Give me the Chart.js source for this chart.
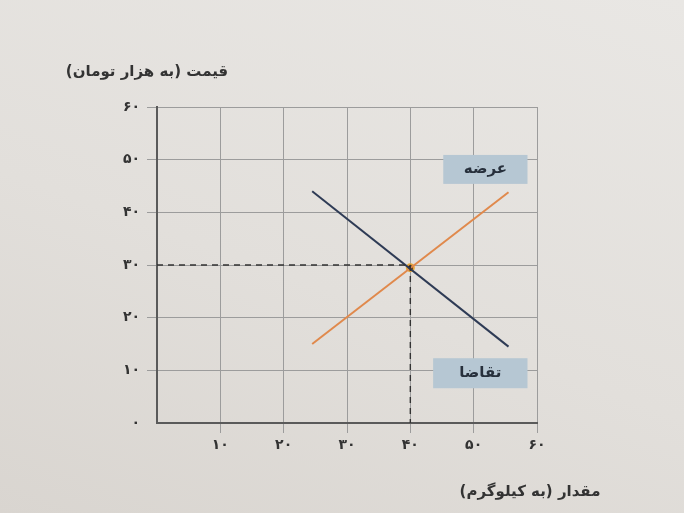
<!DOCTYPE html>
<html lang="fa">
<head>
<meta charset="UTF-8">
<title>عرضه و تقاضا</title>
<script src="https://cdn.jsdelivr.net/npm/chart.js"></script>
<style>
    body { margin: 0; background: linear-gradient(200deg, #e9e7e4 0%, #e2dfdb 55%, #d9d5d0 100%); }
    canvas { display: block; }
</style>
</head>
<body>
<canvas id="chart" width="684" height="513"></canvas>
<script>
    // داده‌ها
    const xTickLabels = ['', '۱۰', '۲۰', '۳۰', '۴۰', '۵۰', '۶۰'];
    const yTickLabels = ['۰', '۱۰', '۲۰', '۳۰', '۴۰', '۵۰', '۶۰'];
    const demandX = [24.5, 55.5];
    const demandY = [44, 14.5];
    const supplyX = [24.5, 55.5];
    const supplyY = [15, 43.8];
    const equilibriumX = [40];
    const equilibriumY = [29.5];
    const guideX = [40];
    const guideY = [30];
    const yTitle = 'قیمت (به هزار تومان)';
    const xTitle = 'مقدار (به کیلوگرم)';
    // برچسب منحنی‌ها: [متن، x چپ، x راست، y بالا، y پایین]
    const curveLabels = [
        ['عرضه', 45.2, 58.5, 50.9, 45.4],
        ['تقاضا', 43.6, 58.5, 12.3, 6.6]
    ];

    const toPoints = (xs, ys) => xs.map((x, i) => ({ x: x, y: ys[i] }));
    const gridTick = c => c.tick && c.tick.value === 0 ? 'rgba(0,0,0,0)' : '#9c9c9c';

    const labelPlugin = {
        id: 'labels',
        afterDatasetsDraw(chart) {
            const c = chart.ctx;
            const xs = chart.scales.x, ys = chart.scales.y;
            c.save();
            curveLabels.forEach(l => {
                const x1 = xs.getPixelForValue(l[1]), x2 = xs.getPixelForValue(l[2]);
                const y1 = ys.getPixelForValue(l[3]), y2 = ys.getPixelForValue(l[4]);
                c.fillStyle = '#b6c7d3';
                c.fillRect(x1, y1, x2 - x1, y2 - y1);
                c.fillStyle = '#27303c';
                c.font = 'bold 15px "DejaVu Sans"';
                c.textAlign = 'center';
                c.textBaseline = 'middle';
                c.direction = 'rtl';
                c.fillText(l[0], (x1 + x2) / 2, (y1 + y2) / 2);
            });
            c.restore();
        },
        afterDraw(chart) {
            const c = chart.ctx;
            const xs = chart.scales.x, ys = chart.scales.y;
            c.save();
            c.fillStyle = '#333333';
            c.font = 'bold 15px "DejaVu Sans"';
            c.textBaseline = 'middle';
            c.direction = 'rtl';
            c.textAlign = 'center';
            c.fillText(yTitle, xs.left - 10, ys.top - 35);
            c.fillText(xTitle, xs.right - 7, xs.bottom + 19);
            c.restore();
        }
    };

    new Chart(document.getElementById('chart'), {
        type: 'line',
        data: {
            datasets: [
                { data: toPoints([0, guideX[0]], [guideY[0], guideY[0]]), borderColor: '#333333', borderWidth: 1.4, borderDash: [6, 5], pointRadius: 0 },
                { data: toPoints([guideX[0], guideX[0]], [guideY[0], 0]), borderColor: '#333333', borderWidth: 1.4, borderDash: [6, 5], pointRadius: 0 },
                { label: 'تقاضا', data: toPoints(demandX, demandY), borderColor: '#2e3b55', borderWidth: 2, pointRadius: 0 },
                { label: 'عرضه', data: toPoints(supplyX, supplyY), borderColor: '#e0894c', borderWidth: 2, pointRadius: 0 },
                { data: toPoints(equilibriumX, equilibriumY), showLine: false, pointRadius: 3.5, pointBackgroundColor: '#3b1c10', pointBorderColor: '#e2a43a', pointBorderWidth: 2 }
            ]
        },
        options: {
            responsive: false,
            animation: false,
            layout: { padding: { left: 0, right: 147, top: 107, bottom: 40 } },
            plugins: { legend: { display: false }, tooltip: { enabled: false } },
            scales: {
                x: {
                    type: 'linear', min: 0, max: 60,
                    ticks: { stepSize: 10, padding: 4, color: '#333', font: { family: 'DejaVu Sans', size: 14, weight: 'bold' },
                        callback: v => xTickLabels[v / 10] },
                    grid: { color: '#9c9c9c', lineWidth: 1, tickLength: 10, tickColor: gridTick },
                    border: { color: '#5a5a5a', width: 2 },
                    afterFit: s => { s.height = 50; }
                },
                y: {
                    min: 0, max: 60,
                    ticks: { stepSize: 10, padding: 7, color: '#333', font: { family: 'DejaVu Sans', size: 14, weight: 'bold' },
                        callback: v => yTickLabels[v / 10] },
                    grid: { color: '#9c9c9c', lineWidth: 1, tickLength: 10, tickColor: gridTick },
                    border: { color: '#5a5a5a', width: 2 },
                    afterFit: s => { s.width = 157; }
                }
            }
        },
        plugins: [labelPlugin]
    });
</script>
</body>
</html>
